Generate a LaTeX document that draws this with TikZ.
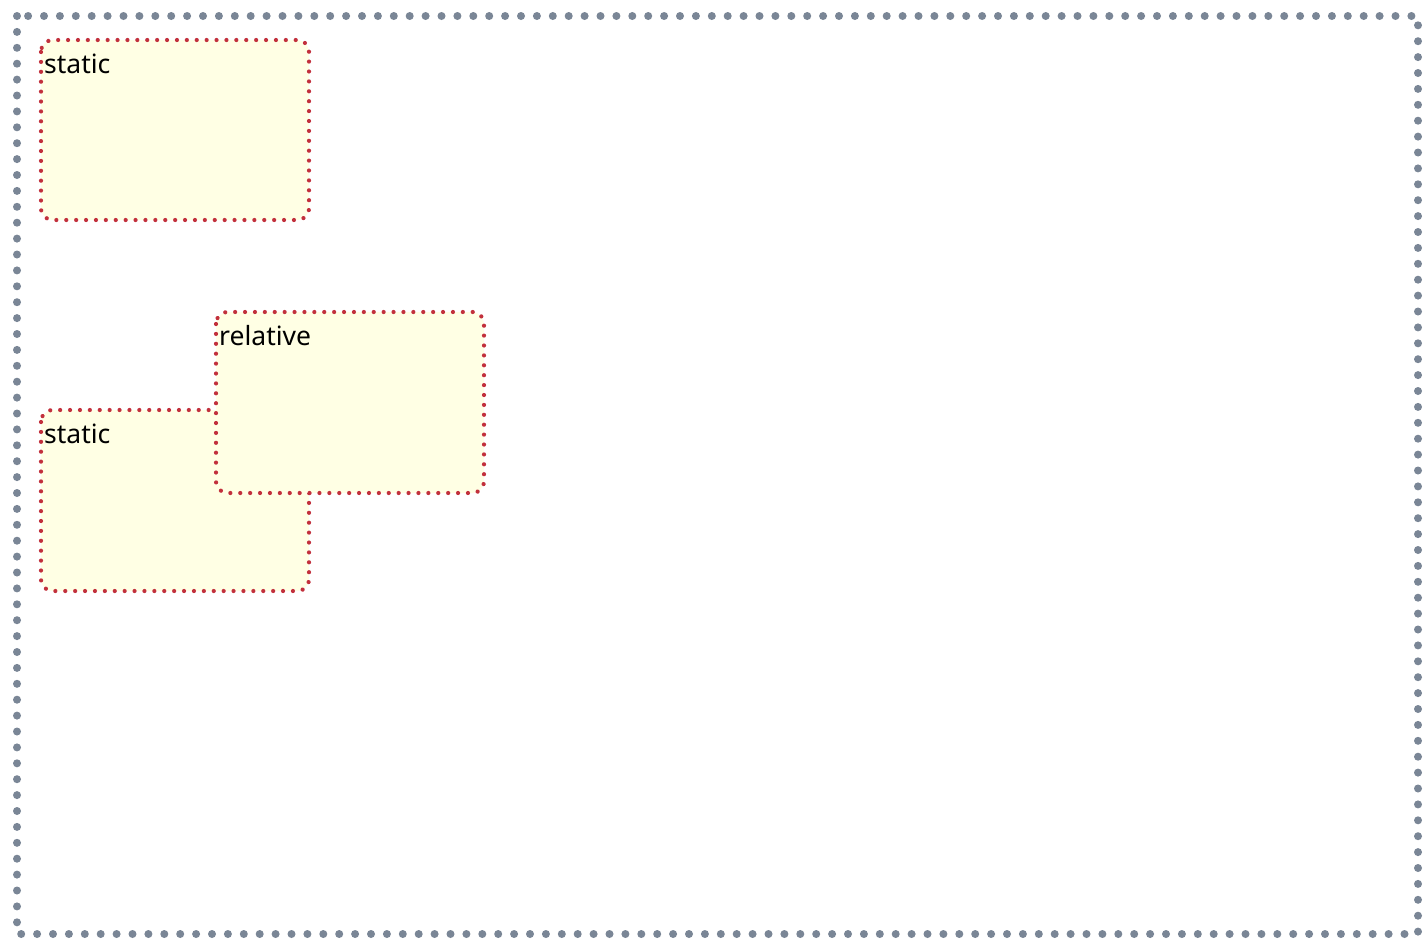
\documentclass[tikz,border=0pt]{standalone}
\usepackage{fontspec}
\setmainfont{Noto Sans}
\usetikzlibrary{decorations.markings}
\definecolor{outergray}{RGB}{122,134,150}
\definecolor{boxred}{RGB}{194,48,60}
\definecolor{boxfill}{RGB}{255,255,228}
\tikzset{
  outerframe/.style={postaction={decorate, decoration={markings,
      mark=between positions 0 and 1 step 15.9pt with {\fill[outergray] (0,0) circle (4pt);}}}},
  posbox/.style={fill=boxfill, rounded corners=12pt, postaction={decorate, decoration={markings,
      mark=between positions 0 and 1 step 9.9pt with {\fill[boxred] (0,0) circle (2.1pt);}}}},
  lbl/.style={anchor=base west, inner sep=0pt, font=\fontsize{26.5}{31}\selectfont}
}
\begin{document}
\begin{tikzpicture}[x=1pt,y=-1pt]
\useasboundingbox (0,0) rectangle (1427,951);
\fill[white] (0,0) rectangle (1427,951);
\path[outerframe] (17,16) rectangle (1418,934);
\path[posbox] (41,40) rectangle (309,220);
\node[lbl] (s1) at (44,73) {static};
\path[posbox] (41,410) rectangle (309,591);
\node[lbl] (s2) at (44,443) {static};
\path[posbox] (216,312) rectangle (484,493);
\node[lbl] (r1) at (219,345) {relative};
\end{tikzpicture}
\end{document}
